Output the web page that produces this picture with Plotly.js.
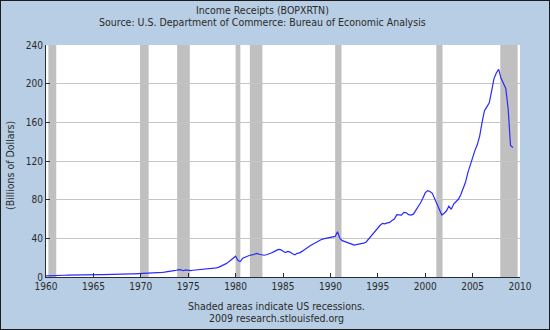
<!DOCTYPE html>
<html>
<head>
<meta charset="utf-8">
<script src="https://cdn.plot.ly/plotly-3.0.1.min.js"></script>
<style>
  html, body { margin: 0; padding: 0; background: #b8cee4; }
  #chart { width: 550px; height: 330px; box-sizing: border-box; border: 1px solid #1c1c1c; }
</style>
</head>
<body>
<div id="chart"></div>
<script>
// Quarterly income receipts, billions of dollars, 1960Q1 .. 2009Q2
const startYear = 1960;
const values = [
  1.1, 1.1, 1.2, 1.2,      // 1960
  1.2, 1.2, 1.3, 1.4,      // 1961
  1.8, 1.9, 2.0, 2.0,      // 1962
  2.0, 2.0, 2.1, 2.1,      // 1963
  2.2, 2.3, 2.3, 2.4,      // 1964
  2.4, 2.4, 2.4, 2.5,      // 1965
  2.5, 2.5, 2.5, 2.5,      // 1966
  2.6, 2.6, 2.6, 2.7,      // 1967
  3.0, 3.0, 3.1, 3.1,      // 1968
  3.2, 3.3, 3.4, 3.4,      // 1969
  3.4, 3.5, 3.5, 3.4,      // 1970
  3.6, 4.2, 3.8, 4.3,      // 1971
  4.5, 4.7, 5.0, 5.2,      // 1972
  5.6, 6.0, 6.6, 7.0,      // 1973
  7.6, 7.3, 6.5, 7.4,      // 1974
  6.8, 6.6, 7.0, 7.2,      // 1975
  7.4, 7.6, 7.8, 8.0,      // 1976
  8.3, 8.5, 8.6, 8.8,      // 1977
  9.5, 10.2, 11.2, 12.4,   // 1978
  13.8, 15.5, 17.5, 19.0,  // 1979
  21.5, 17.0, 16.0, 19.5,  // 1980
  20.5, 22.0, 22.5, 22.8,  // 1981
  23.5, 24.5, 23.5, 22.7,  // 1982
  22.5, 23.0, 24.3, 24.8,  // 1983
  26.0, 27.5, 28.6, 28.3,  // 1984
  26.5, 25.2, 26.5, 25.8,  // 1985
  24.0, 23.0, 24.5, 25.0,  // 1986
  26.5, 28.5, 30.5, 31.5,  // 1987
  33.0, 34.5, 36.0, 37.0,  // 1988
  38.5, 39.5, 40.0, 41.0,  // 1989
  41.7, 41.5, 42.0, 46.9,  // 1990
  40.0, 37.6, 36.5, 35.5,  // 1991
  35.0, 34.0, 33.0, 33.5,  // 1992
  33.5, 34.5, 35.0, 36.0,  // 1993
  39.0, 41.5, 44.5, 47.0,  // 1994
  51.0, 53.5, 55.5, 55.0,  // 1995
  56.0, 56.5, 58.5, 60.0,  // 1996
  64.5, 64.5, 64.0, 66.9,  // 1997
  66.5, 64.5, 64.0, 65.0,  // 1998
  68.5, 72.0, 76.5, 81.5,  // 1999
  87.0, 89.3, 88.5, 86.5,  // 2000
  81.0, 76.0, 70.0, 64.1,  // 2001
  66.0, 68.5, 73.4, 70.0,  // 2002
  75.5, 77.5, 80.4, 85.0,  // 2003
  92.0, 98.0, 108.0, 116.0,   // 2004
  125.0, 131.0, 137.0, 146.0, // 2005
  160.0, 172.0, 176.0, 180.0, // 2006
  192.0, 205.0, 211.0, 214.8, // 2007
  205.5, 200.0, 195.0, 174.0, // 2008
  136.0, 134.0                // 2009
];
const dates = values.map((v, i) => startYear + i / 4);

// NBER recessions (decimal years); last one shaded to chart end
const recStart = [1960.25, 1969.92, 1973.83, 1980.0, 1981.5, 1990.5, 2001.17, 2007.92];
const recEnd   = [1961.08, 1970.83, 1975.17, 1980.5, 1982.83, 1991.17, 2001.83, 2009.75];

const yTicks = [0, 40, 80, 120, 160, 200, 240];
const xTicks = [1960, 1965, 1970, 1975, 1980, 1985, 1990, 1995, 2000, 2005, 2010];

const shapes = recStart.map((s, i) => ({
  type: 'rect', xref: 'x', yref: 'paper', x0: s, x1: recEnd[i], y0: 0, y1: 1,
  fillcolor: '#c0c0c0', line: { width: 0 }, layer: 'below'
}));

const font = "'DejaVu Sans Condensed', 'DejaVu Sans', sans-serif";
const txt = '#2a2a2a';

const trace = {
  x: dates, y: values, type: 'scatter', mode: 'lines',
  line: { color: '#2a2aff', width: 1.2 }, hoverinfo: 'skip'
};

const layout = {
  width: 548, height: 328,
  margin: { l: 45, r: 29, t: 44, b: 52, pad: 0 },
  paper_bgcolor: '#b8cee4',
  plot_bgcolor: '#ffffff',
  showlegend: false,
  font: { family: font, size: 10, color: txt },
  xaxis: {
    type: 'linear', range: [1960, 2010], tickvals: xTicks, ticktext: xTicks.map(String),
    showgrid: false, zeroline: false,
    showline: true, linecolor: '#2b2b3b', linewidth: 1,
    ticks: 'inside', ticklen: 4, tickcolor: '#2b2b3b', tickwidth: 1,
    tickfont: { family: font, size: 10, color: txt }
  },
  yaxis: {
    range: [0, 240], tickvals: yTicks, ticktext: yTicks.map(String),
    showgrid: true, gridcolor: '#c4c4c4', gridwidth: 1, zeroline: false,
    showline: true, linecolor: '#2b2b3b', linewidth: 1,
    ticks: 'inside', ticklen: 4, tickcolor: '#2b2b3b', tickwidth: 1,
    tickfont: { family: font, size: 10, color: txt }
  },
  shapes: shapes,
  annotations: [
    { text: 'Income Receipts (BOPXRTN)', xref: 'paper', yref: 'paper',
      x: 0.456, y: 1.151, xanchor: 'center', yanchor: 'middle', showarrow: false,
      font: { family: font, size: 10.5, color: txt } },
    { text: 'Source: U.S. Department of Commerce: Bureau of Economic Analysis', xref: 'paper', yref: 'paper',
      x: 0.456, y: 1.099, xanchor: 'center', yanchor: 'middle', showarrow: false,
      font: { family: font, size: 10.5, color: txt } },
    { text: '(Billions of Dollars)', xref: 'paper', yref: 'paper', textangle: -90,
      x: -0.076, y: 0.483, xanchor: 'center', yanchor: 'middle', showarrow: false,
      font: { family: font, size: 10.5, color: txt } },
    { text: 'Shaded areas indicate US recessions.', xref: 'paper', yref: 'paper',
      x: 0.487, y: -0.125, xanchor: 'center', yanchor: 'middle', showarrow: false,
      font: { family: font, size: 10.5, color: txt } },
    { text: '2009 research.stlouisfed.org', xref: 'paper', yref: 'paper',
      x: 0.487, y: -0.177, xanchor: 'center', yanchor: 'middle', showarrow: false,
      font: { family: font, size: 10.5, color: txt } }
  ]
};

Plotly.newPlot('chart', [trace], layout, { displayModeBar: false, staticPlot: true });
</script>
</body>
</html>
